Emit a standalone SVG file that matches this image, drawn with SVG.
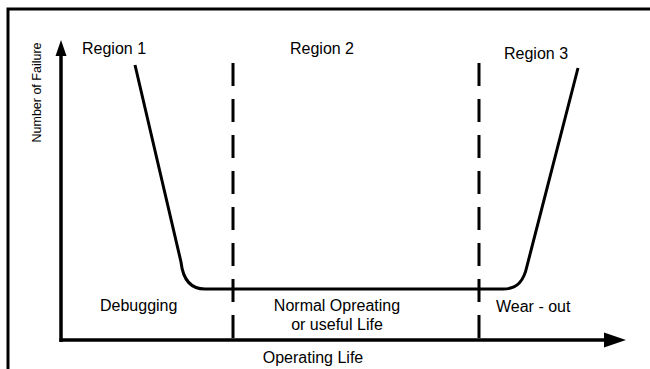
<svg xmlns="http://www.w3.org/2000/svg" width="650" height="369" viewBox="0 0 650 369">
<style>
text{font-family:"Liberation Sans",Arial,sans-serif;font-size:16px;fill:#000}
.ax{stroke:#000;stroke-width:3.5;fill:none}
.dash{stroke:#000;stroke-width:3;stroke-dasharray:23 13;fill:none}
.curve{stroke:#000;stroke-width:3;fill:none;stroke-linejoin:round}
</style>
<rect width="650" height="369" fill="#fff"/>
<g id="frame">
<path d="M8,369 V9 H650" stroke="#000" stroke-width="3" fill="none"/>
</g>
<g id="connectors">
<line class="ax" x1="61" y1="342" x2="61" y2="52"/>
<polygon points="61,40 55.5,56 66.5,56" fill="#000"/>
<line class="ax" x1="59.5" y1="340" x2="606" y2="340"/>
<polygon points="626,340 604,332.5 604,347.5" fill="#000"/>
<line class="dash" x1="233" y1="63" x2="233" y2="340"/>
<line class="dash" x1="479" y1="63" x2="479" y2="340"/>
<path class="curve" d="M135,65 L181,262 Q184,289 205,289 L503,289 C518,289 524,280 527,266 L578,68"/>
</g>
<g id="labels">
<text x="82" y="54">Region 1</text>
<text x="322" y="54" text-anchor="middle">Region 2</text>
<text x="504" y="59">Region 3</text>
<text x="100" y="311">Debugging</text>
<text x="337" y="311" text-anchor="middle">Normal Opreating</text>
<text x="337" y="330" text-anchor="middle">or useful Life</text>
<text x="496" y="312">Wear - out</text>
<text x="313" y="363" text-anchor="middle">Operating Life</text>
<text transform="translate(41,92.5) rotate(-90)" text-anchor="middle" style="font-size:12.5px">Number of Failure</text>
</g>
</svg>
